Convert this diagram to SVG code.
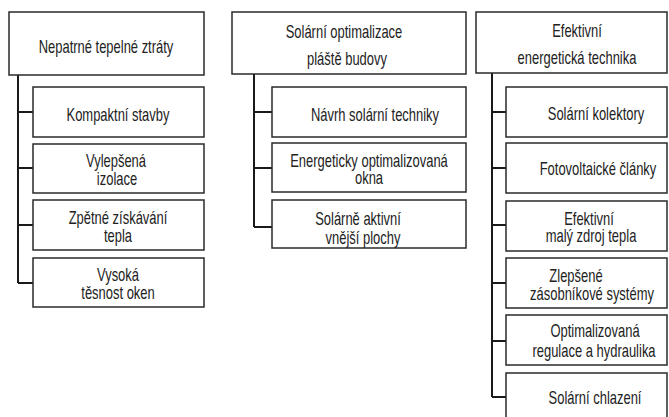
<svg xmlns="http://www.w3.org/2000/svg" width="669" height="417" viewBox="0 0 669 417">
<style>
.b{fill:#fff;stroke:#2a2a2a;stroke-width:1.5}
.t{font-family:"Liberation Sans",Arial,sans-serif;font-size:18px;fill:#222;text-anchor:middle}
.c{fill:none;stroke:#1a1a1a;stroke-width:2}
</style>
<rect width="669" height="417" fill="#fff"/>
<g id="connectors">
<path class="c" d="M18 75V283M18 112H33M18 168H33M18 225H33M18 283H33"/>
<path class="c" d="M254 74V227M254 112H272M254 168H272M254 227H272"/>
<path class="c" d="M492 73V397M492 112H506M492 168H506M492 225H506M492 283H506M492 341H506M492 397H506"/>
</g>
<g id="n1"><rect class="b" x="9" y="12" width="195" height="63"/><text class="t" transform="matrix(0.72 0 0 1 106 53)">Nepatrné tepelné ztráty</text></g>
<g id="n1a"><rect class="b" x="33" y="87" width="171" height="50"/><text class="t" transform="matrix(0.72 0 0 1 118 120.5)">Kompaktní stavby</text></g>
<g id="n1b"><rect class="b" x="33" y="144" width="171" height="49"/><text class="t" transform="matrix(0.72 0 0 1 116 167)">Vylepšená</text><text class="t" transform="matrix(0.72 0 0 1 117 185)">izolace</text></g>
<g id="n1c"><rect class="b" x="33" y="200" width="171" height="50"/><text class="t" transform="matrix(0.72 0 0 1 118 224)">Zpětné získávání</text><text class="t" transform="matrix(0.72 0 0 1 118 242)">tepla</text></g>
<g id="n1d"><rect class="b" x="33" y="258" width="171" height="49"/><text class="t" transform="matrix(0.72 0 0 1 118 281)">Vysoká</text><text class="t" transform="matrix(0.72 0 0 1 118 299)">těsnost oken</text></g>
<g id="n2"><rect class="b" x="232" y="12" width="234" height="62"/><text class="t" transform="matrix(0.72 0 0 1 344 38)">Solární optimalizace</text><text class="t" transform="matrix(0.72 0 0 1 347 65)">pláště budovy</text></g>
<g id="n2a"><rect class="b" x="272" y="87" width="194" height="50"/><text class="t" transform="matrix(0.72 0 0 1 375 121)">Návrh solární techniky</text></g>
<g id="n2b"><rect class="b" x="272" y="143" width="194" height="49"/><text class="t" transform="matrix(0.72 0 0 1 369 167)">Energeticky optimalizovaná</text><text class="t" transform="matrix(0.72 0 0 1 369 184)">okna</text></g>
<g id="n2c"><rect class="b" x="272" y="200" width="194" height="48"/><text class="t" transform="matrix(0.72 0 0 1 358 225)">Solárně aktivní</text><text class="t" transform="matrix(0.72 0 0 1 363 244)">vnější plochy</text></g>
<g id="n3"><rect class="b" x="476" y="12" width="191" height="61"/><text class="t" transform="matrix(0.72 0 0 1 577 37)">Efektivní</text><text class="t" transform="matrix(0.72 0 0 1 577 64)">energetická technika</text></g>
<g id="n3a"><rect class="b" x="506" y="87" width="161" height="50"/><text class="t" transform="matrix(0.72 0 0 1 596 120)">Solární kolektory</text></g>
<g id="n3b"><rect class="b" x="506" y="143" width="161" height="50"/><text class="t" transform="matrix(0.72 0 0 1 598 175)">Fotovoltaické články</text></g>
<g id="n3c"><rect class="b" x="506" y="201" width="161" height="50"/><text class="t" transform="matrix(0.72 0 0 1 589 225)">Efektivní</text><text class="t" transform="matrix(0.72 0 0 1 591 242)">malý zdroj tepla</text></g>
<g id="n3d"><rect class="b" x="506" y="258" width="161" height="50"/><text class="t" transform="matrix(0.72 0 0 1 576 282)">Zlepšené</text><text class="t" transform="matrix(0.72 0 0 1 592 300)">zásobníkové systémy</text></g>
<g id="n3e"><rect class="b" x="506" y="315" width="161" height="50"/><text class="t" transform="matrix(0.72 0 0 1 595 337)">Optimalizovaná</text><text class="t" transform="matrix(0.72 0 0 1 594 357)">regulace a hydraulika</text></g>
<g id="n3f"><rect class="b" x="506" y="373" width="161" height="50"/><text class="t" transform="matrix(0.72 0 0 1 595 404)">Solární chlazení</text></g>
</svg>
